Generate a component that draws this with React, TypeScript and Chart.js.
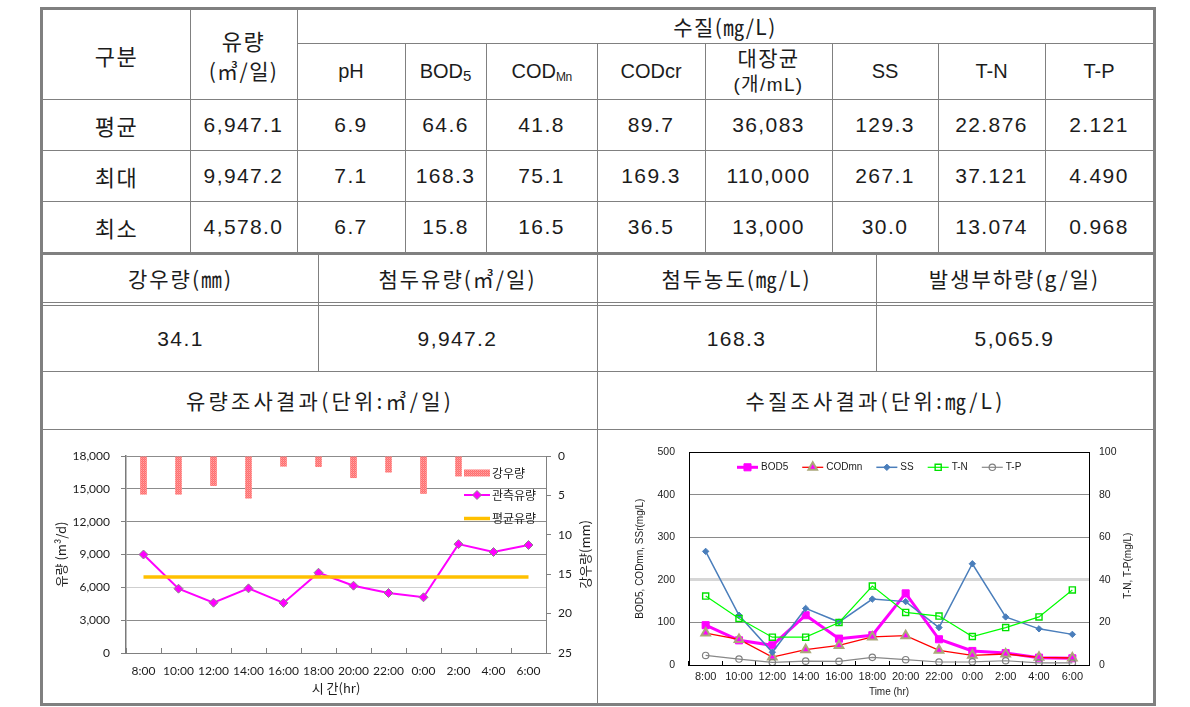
import React, { useEffect, useRef } from 'react';
import { Chart, registerables } from 'chart.js';

Chart.register(...registerables);

// ---------------- data ----------------
const timeLabels = ['8:00', '10:00', '12:00', '14:00', '16:00', '18:00', '20:00', '22:00', '0:00', '2:00', '4:00', '6:00'];
const rainfallMm = [4.9, 4.9, 3.8, 5.4, 1.35, 1.4, 2.8, 2.1, 4.8, 2.6, 0, 0];
const observedFlow = [9000, 5875, 4596, 5905, 4578, 7337, 6150, 5482, 5089, 9947.2, 9228, 9868];
const averageFlow = [6947.1, 6947.1, 6947.1, 6947.1, 6947.1, 6947.1, 6947.1, 6947.1, 6947.1, 6947.1, 6947.1, 6947.1];

const bod5 = [93.6, 58, 46.3, 117, 62, 70, 168.3, 60.5, 33, 28, 17.3, 15.8];
const codMn = [75.1, 60, 18.7, 36, 46, 66, 69, 34.5, 22.7, 25.8, 18, 16.5];
const ss = [267.1, 117, 30.0, 133, 101, 155, 149, 88, 238, 113, 85, 72];
const tN = [32.4, 21.9, 13.074, 13.1, 20, 37.121, 24.7, 23, 13.4, 17.6, 22.6, 35.3];
const tP = [4.49, 2.8, 1.2, 1.8, 1.7, 3.6, 2.5, 1.4, 1.5, 2.0, 1.0, 0.968];

const rowLabels = ['평균', '최대', '최소'];
const flowStats = ['6,947.1', '9,947.2', '4,578.0'];
const qualityHeaders = ['pH', 'BOD5', 'CODMn', 'CODcr', '대장균|(개/mL)', 'SS', 'T-N', 'T-P'];
const qualityAvg = ['6.9', '64.6', '41.8', '89.7', '36,083', '129.3', '22.876', '2.121'];
const qualityMax = ['7.1', '168.3', '75.1', '169.3', '110,000', '267.1', '37.121', '4.490'];
const qualityMin = ['6.7', '15.8', '16.5', '36.5', '13,000', '30.0', '13.074', '0.968'];
const summaryHeaders = ['강우량(㎜)', '첨두유량(㎥/일)', '첨두농도(㎎/L)', '발생부하량(g/일)'];
const summaryValues = ['34.1', '9,947.2', '168.3', '5,065.9'];
const chartTitles = ['유량조사결과(단위:㎥/일)', '수질조사결과(단위:㎎/L)'];

// ---------------- layout / style ----------------
const LINE = '#808080';
const TEXT = '#1c1c1c';
const KOR = "'Noto Sans CJK KR', 'Noto Sans', sans-serif";
const TABLE_FONT = "'Liberation Sans', 'Noto Sans CJK KR', sans-serif";
const topCols = [297, 405, 486, 597, 705, 832, 938, 1045, 1153];
const rowYs = [99, 150, 201, 252];
const lowCols = [43, 318, 597, 876, 1153];

function Box(props: any) {
  const { l, t, w, h, children, style } = props;
  return (
    <div
      style={{
        position: 'absolute', left: l, top: t, width: w, height: h,
        display: 'flex', flexDirection: 'column', alignItems: 'center', justifyContent: 'center',
        textAlign: 'center', whiteSpace: 'nowrap', lineHeight: 1, ...style,
      }}
    >
      {children}
    </div>
  );
}
function HL({ x1, x2, y, h = 1 }: any) {
  return <div style={{ position: 'absolute', left: x1, top: y, width: x2 - x1, height: h, background: LINE }} />;
}
function VL({ x, y1, y2, w = 1 }: any) {
  return <div style={{ position: 'absolute', left: x, top: y1, width: w, height: y2 - y1, background: LINE }} />;
}

function headerLabel(h: string) {
  if (h === 'BOD5') return <span style={{ fontSize: 20 }}>BOD<span style={{ fontSize: 15, position: 'relative', top: 3 }}>5</span></span>;
  if (h === 'CODMn') return <span style={{ fontSize: 20 }}>COD<span style={{ fontSize: 12, position: 'relative', top: 3, letterSpacing: -0.5 }}>Mn</span></span>;
  if (h.includes('|')) {
    const [a, b] = h.split('|');
    return (
      <>
        <div style={{ height: 28, lineHeight: '28px', fontFamily: KOR }}>{a}</div>
        <div style={{ height: 28, lineHeight: '28px', fontSize: 19 }}>{b}</div>
      </>
    );
  }
  return <span style={{ fontSize: 20 }}>{h}</span>;
}

function drawMarker(ctx: CanvasRenderingContext2D, style: string, x: number, y: number, r: number, fill: string, stroke: string, lw: number) {
  ctx.beginPath();
  if (style === 'circle') ctx.arc(x, y, r, 0, Math.PI * 2);
  else if (style === 'rect') { const s = r * Math.SQRT1_2; ctx.rect(x - s, y - s, 2 * s, 2 * s); }
  else if (style === 'rectRot') { ctx.moveTo(x, y - r); ctx.lineTo(x + r, y); ctx.lineTo(x, y + r); ctx.lineTo(x - r, y); ctx.closePath(); }
  else if (style === 'triangle') {
    ctx.moveTo(x, y - r); ctx.lineTo(x + r * 0.866, y + r * 0.5); ctx.lineTo(x - r * 0.866, y + r * 0.5); ctx.closePath();
  }
  ctx.fillStyle = fill; ctx.fill();
  if (lw > 0) { ctx.lineWidth = lw; ctx.strokeStyle = stroke; ctx.stroke(); }
}

function drawLegendEntry(ctx: CanvasRenderingContext2D, d: any, x1: number, x2: number, y: number) {
  if (d.type === 'bar') {
    ctx.fillStyle = d.backgroundColor;
    ctx.fillRect(x1, y - 3.5, x2 - x1, 7);
    return;
  }
  ctx.beginPath();
  ctx.moveTo(x1, y); ctx.lineTo(x2, y);
  ctx.lineWidth = d.borderWidth; ctx.strokeStyle = d.borderColor; ctx.stroke();
  if (d.pointRadius > 0) {
    drawMarker(ctx, d.pointStyle, (x1 + x2) / 2, y, d.pointRadius, d.pointBackgroundColor, d.pointBorderColor, d.pointBorderWidth || 0);
  }
}

function sideTitle(id: string, text: string, font: string, dx: number, dy: number) {
  return {
    id,
    afterDraw(chart: any) {
      const ctx = chart.ctx as CanvasRenderingContext2D;
      const a = chart.chartArea;
      ctx.save();
      ctx.translate(chart.width - dx, (a.top + a.bottom) / 2 + dy);
      ctx.rotate(-Math.PI / 2);
      ctx.font = font; ctx.fillStyle = TEXT; ctx.textAlign = 'center'; ctx.textBaseline = 'middle';
      ctx.fillText(text, 0, 0);
      ctx.restore();
    },
  };
}

function makeRainPattern(): any {
  const c = document.createElement('canvas');
  c.width = 2; c.height = 2;
  const g = c.getContext('2d')!;
  g.fillStyle = '#FF6E6E'; g.fillRect(0, 0, 2, 2);
  g.fillStyle = '#FFA6A6'; g.fillRect(0, 0, 1, 1);
  g.fillStyle = '#FF8A8A'; g.fillRect(1, 1, 1, 1);
  return g.createPattern(c, 'repeat') || '#FF8080';
}

const canvasStyle = { position: 'absolute' as const, letterSpacing: '0px', fontFamily: 'sans-serif' };

function FlowChart() {
  const ref = useRef<HTMLCanvasElement>(null);
  useEffect(() => {
    const latin = { family: "Lato, 'Noto Sans', sans-serif", size: 12 };
    const kor = { family: KOR, size: 13 };
    const legend = {
      id: 'flowLegend',
      afterDraw(chart: any) {
        const ctx = chart.ctx as CanvasRenderingContext2D;
        const a = chart.chartArea;
        ctx.save();
        const rows = [{ ds: 2, y: 17 }, { ds: 1, y: 39 }, { ds: 0, y: 62.5 }];
        const x1 = a.right - 82, x2 = a.right - 56;
        for (const r of rows) {
          const d: any = chart.data.datasets[r.ds];
          drawLegendEntry(ctx, d, x1, x2, a.top + r.y);
          ctx.font = `12px ${KOR}`; ctx.fillStyle = TEXT; ctx.textBaseline = 'middle'; ctx.textAlign = 'left';
          ctx.fillText(d.label, x2 + 2, a.top + r.y);
        }
        ctx.restore();
      },
    };
    const chart = new Chart(ref.current!, {
      type: 'bar',
      data: {
        labels: timeLabels,
        datasets: [
          { type: 'line', label: '평균유량', data: averageFlow, yAxisID: 'y', borderColor: '#FFC000', borderWidth: 3.5, pointRadius: 0, order: 0 } as any,
          { type: 'line', label: '관측유량', data: observedFlow, yAxisID: 'y', borderColor: '#FF00FF', borderWidth: 2, pointStyle: 'rectRot', pointRadius: 4.5, pointBackgroundColor: '#FF00FF', pointBorderColor: '#8a8a8a', pointBorderWidth: 1, order: 1 } as any,
          { type: 'bar', label: '강우량', data: rainfallMm, yAxisID: 'y2', backgroundColor: makeRainPattern(), barPercentage: 0.19, categoryPercentage: 1, order: 2 } as any,
        ],
      },
      options: {
        responsive: false, animation: false, events: [],
        layout: { padding: { top: 24, left: 0, right: 0, bottom: 0 } },
        plugins: { legend: { display: false }, tooltip: { enabled: false } },
        scales: {
          x: {
            type: 'category', offset: true,
            grid: { offset: true, drawOnChartArea: false, drawTicks: true, tickLength: -5, color: '#808080' },
            border: { color: '#808080' },
            ticks: { padding: 16, color: TEXT, font: latin, maxRotation: 0, autoSkip: false },
            title: { display: true, text: '시 간(hr)', color: TEXT, font: kor, padding: { top: 0, bottom: 6 } },
            afterFit: (s: any) => { s.height = 49; },
          },
          y: {
            position: 'left', min: 0, max: 18000,
            ticks: { stepSize: 3000, padding: 11, color: TEXT, font: latin, callback: (v: any) => Number(v).toLocaleString('en-US') },
            grid: {
              drawTicks: true, tickLength: 5, tickColor: '#808080',
              color: (c: any) => (c.tick && c.tick.value === 6000 ? '#cfcfcf' : '#8c8c8c'),
            },
            border: { color: '#7a7a7a', width: 1.5 },
            title: { display: true, text: '유량 (m³/d)', color: TEXT, font: kor, padding: { top: 10, bottom: 0 } },
            afterFit: (s: any) => { s.width = 83; },
          },
          y2: {
            position: 'right', reverse: true, min: 0, max: 25,
            ticks: { stepSize: 5, padding: 7, color: TEXT, font: latin },
            grid: { drawOnChartArea: false, drawTicks: true, tickLength: 5, color: '#808080' },
            border: { color: '#808080' },
            afterFit: (s: any) => { s.width = 49; },
          },
        },
      } as any,
      plugins: [legend, sideTitle('rainTitle', '강우량(mm)', `13px ${KOR}`, 10, 0)],
    });
    return () => chart.destroy();
  }, []);
  return <canvas ref={ref} width={552} height={270} style={{ ...canvasStyle, left: 43, top: 432, width: 552, height: 270 }} />;
}

function QualityChart() {
  const ref = useRef<HTMLCanvasElement>(null);
  useEffect(() => {
    const arial = { family: "'Liberation Sans', Arial, sans-serif", size: 10.5 };
    const arialX = { family: "'Liberation Sans', Arial, sans-serif", size: 11 };
    const titleFont = { family: "'Liberation Sans', Arial, sans-serif", size: 10 };
    const legend = {
      id: 'wqLegend',
      afterDraw(chart: any) {
        const ctx = chart.ctx as CanvasRenderingContext2D;
        const a = chart.chartArea;
        ctx.save();
        ctx.font = "10px 'Liberation Sans', Arial, sans-serif";
        let x = a.left + 48;
        const y = a.top + 15;
        chart.data.datasets.forEach((d: any) => {
          drawLegendEntry(ctx, d, x, x + 21, y);
          ctx.font = "10px 'Liberation Sans', Arial, sans-serif";
          ctx.fillStyle = TEXT; ctx.textBaseline = 'middle'; ctx.textAlign = 'left';
          ctx.fillText(d.label, x + 24, y);
          x += 24 + ctx.measureText(d.label).width + 14;
        });
        ctx.restore();
      },
    };
    const chart = new Chart(ref.current!, {
      type: 'line',
      data: {
        labels: timeLabels,
        datasets: [
          { label: 'BOD5', data: bod5, yAxisID: 'y', borderColor: '#FF00FF', borderWidth: 3, pointStyle: 'rect', pointRadius: 5, pointBackgroundColor: '#FF00FF', pointBorderColor: '#FF00FF', pointBorderWidth: 1, order: 4 },
          { label: 'CODmn', data: codMn, yAxisID: 'y', borderColor: '#FF0000', borderWidth: 1.3, pointStyle: 'triangle', pointRadius: 5, pointBackgroundColor: '#FF00FF', pointBorderColor: '#ABA77A', pointBorderWidth: 2, order: 3 },
          { label: 'SS', data: ss, yAxisID: 'y', borderColor: '#4A7EBB', borderWidth: 1.5, pointStyle: 'rectRot', pointRadius: 3.2, pointBackgroundColor: '#4A7EBB', pointBorderColor: '#4A7EBB', pointBorderWidth: 1, order: 2 },
          { label: 'T-N', data: tN, yAxisID: 'y2', borderColor: '#00FF00', borderWidth: 1.2, pointStyle: 'rect', pointRadius: 4.3, pointBackgroundColor: 'rgba(255,255,255,0)', pointBorderColor: '#00E000', pointBorderWidth: 1.4, order: 1 },
          { label: 'T-P', data: tP, yAxisID: 'y2', borderColor: '#888888', borderWidth: 1.2, pointStyle: 'circle', pointRadius: 3.2, pointBackgroundColor: 'rgba(255,255,255,0)', pointBorderColor: '#808080', pointBorderWidth: 1.2, order: 0 },
        ] as any,
      },
      options: {
        responsive: false, animation: false, events: [],
        layout: { padding: { top: 20, left: 0, right: 0, bottom: 0 } },
        plugins: { legend: { display: false }, tooltip: { enabled: false } },
        scales: {
          x: {
            type: 'category', offset: true,
            grid: { offset: true, drawOnChartArea: false, drawTicks: true, tickLength: -4, color: '#000' },
            border: { color: '#000' },
            ticks: { padding: 9, color: TEXT, font: arialX, maxRotation: 0, autoSkip: false },
            title: { display: true, text: 'Time (hr)', color: TEXT, font: titleFont, padding: { top: 0, bottom: 4 } },
            afterFit: (s: any) => { s.height = 37; },
          },
          y: {
            position: 'left', min: 0, max: 500,
            ticks: { stepSize: 100, padding: 14, color: TEXT, font: arial },
            grid: {
              drawTicks: false,
              color: (c: any) => {
                const v = c.tick ? c.tick.value : -1;
                if (v === 200) return '#d6d6d6';
                if (v === 500 || v === 0) return '#000';
                return '#8a8a8a';
              },
              lineWidth: (c: any) => (c.tick && c.tick.value === 200 ? 3 : 1),
            },
            border: { color: '#000' },
            title: { display: true, text: 'BOD5, CODmn, SSr(mg/L)', color: TEXT, font: titleFont, padding: { top: 35, bottom: 0 } },
            afterFit: (s: any) => { s.width = 90; },
          },
          y2: {
            position: 'right', min: 0, max: 100,
            ticks: { stepSize: 20, padding: 10, color: TEXT, font: arial },
            grid: { drawOnChartArea: false, drawTicks: false },
            border: { color: '#000' },
            afterFit: (s: any) => { s.width = 63; },
          },
        },
      } as any,
      plugins: [legend, sideTitle('tnTitle', 'T-N, T-P(mg/L)', "10px 'Liberation Sans', Arial, sans-serif", 24, 7)],
    });
    return () => chart.destroy();
  }, []);
  return <canvas ref={ref} width={553} height={270} style={{ ...canvasStyle, left: 599, top: 432, width: 553, height: 270 }} />;
}

export default function App() {
  const rowsData = [qualityAvg, qualityMax, qualityMin];
  return (
    <div style={{ position: 'absolute', left: 0, top: 0, width: 1190, height: 707, background: '#fff', color: TEXT, fontFamily: TABLE_FONT, fontSize: 21 }}>
      {/* outer frame */}
      <div style={{ position: 'absolute', left: 40, top: 7, width: 1116, height: 699, border: `3px solid ${LINE}`, boxSizing: 'border-box' }} />

      {/* horizontal lines */}
      <HL x1={297} x2={1153} y={43} />
      <HL x1={43} x2={1153} y={99} />
      <HL x1={43} x2={1153} y={150} />
      <HL x1={43} x2={1153} y={201} />
      <HL x1={43} x2={1153} y={252} h={3} />
      <HL x1={43} x2={1153} y={302} />
      <HL x1={43} x2={1153} y={305} />
      <HL x1={43} x2={1153} y={371} />
      <HL x1={43} x2={1153} y={429} />

      {/* vertical lines */}
      <VL x={190} y1={10} y2={252} />
      <VL x={297} y1={10} y2={252} />
      {topCols.slice(1, -1).map((x) => <VL key={'tc' + x} x={x} y1={43} y2={252} />)}
      {lowCols.slice(1, -1).map((x) => <VL key={'lc' + x} x={x} y1={255} y2={371} />)}
      <VL x={597} y1={371} y2={703} />

      <div style={{ letterSpacing: 1.4 }}>
        {/* header */}
        <Box l={43} t={10} w={147} h={89} style={{ fontFamily: KOR, fontSize: 22 }}>구분</Box>
        <Box l={190} t={10} w={107} h={89} style={{ fontFamily: KOR }}>
          <div style={{ height: 30, lineHeight: '30px', fontSize: 22 }}>유량</div>
          <div style={{ height: 30, lineHeight: '30px' }}>(㎥/일)</div>
        </Box>
        <Box l={297} t={10} w={856} h={33} style={{ fontFamily: KOR }}>수질(㎎/L)</Box>
        {qualityHeaders.map((h, i) => (
          <Box key={'qh' + i} l={topCols[i]} t={43} w={topCols[i + 1] - topCols[i]} h={56} style={{ letterSpacing: h.includes('|') ? 1.4 : 0 }}>
            {headerLabel(h)}
          </Box>
        ))}

        {/* stats rows */}
        {rowLabels.map((lab, r) => {
          const t = rowYs[r];
          const h = rowYs[r + 1] - rowYs[r];
          return (
            <React.Fragment key={lab}>
              <Box l={43} t={t} w={147} h={h} style={{ fontFamily: KOR, fontSize: 22 }}>{lab}</Box>
              <Box l={190} t={t} w={107} h={h}>{flowStats[r]}</Box>
              {rowsData[r].map((v, i) => (
                <Box key={lab + i} l={topCols[i]} t={t} w={topCols[i + 1] - topCols[i]} h={h}>{v}</Box>
              ))}
            </React.Fragment>
          );
        })}

        {/* summary */}
        {summaryHeaders.map((s, i) => (
          <Box key={'sh' + i} l={lowCols[i]} t={255} w={lowCols[i + 1] - lowCols[i]} h={47} style={{ fontFamily: KOR, letterSpacing: 2 }}>{s}</Box>
        ))}
        {summaryValues.map((s, i) => (
          <Box key={'sv' + i} l={lowCols[i]} t={306} w={lowCols[i + 1] - lowCols[i]} h={65}>{s}</Box>
        ))}

        {/* chart titles */}
        <Box l={43} t={372} w={554} h={57} style={{ fontFamily: KOR, letterSpacing: 3.2 }}>{chartTitles[0]}</Box>
        <Box l={598} t={372} w={555} h={57} style={{ fontFamily: KOR, letterSpacing: 3.2 }}>{chartTitles[1]}</Box>
      </div>

      <FlowChart />
      <QualityChart />
    </div>
  );
}
